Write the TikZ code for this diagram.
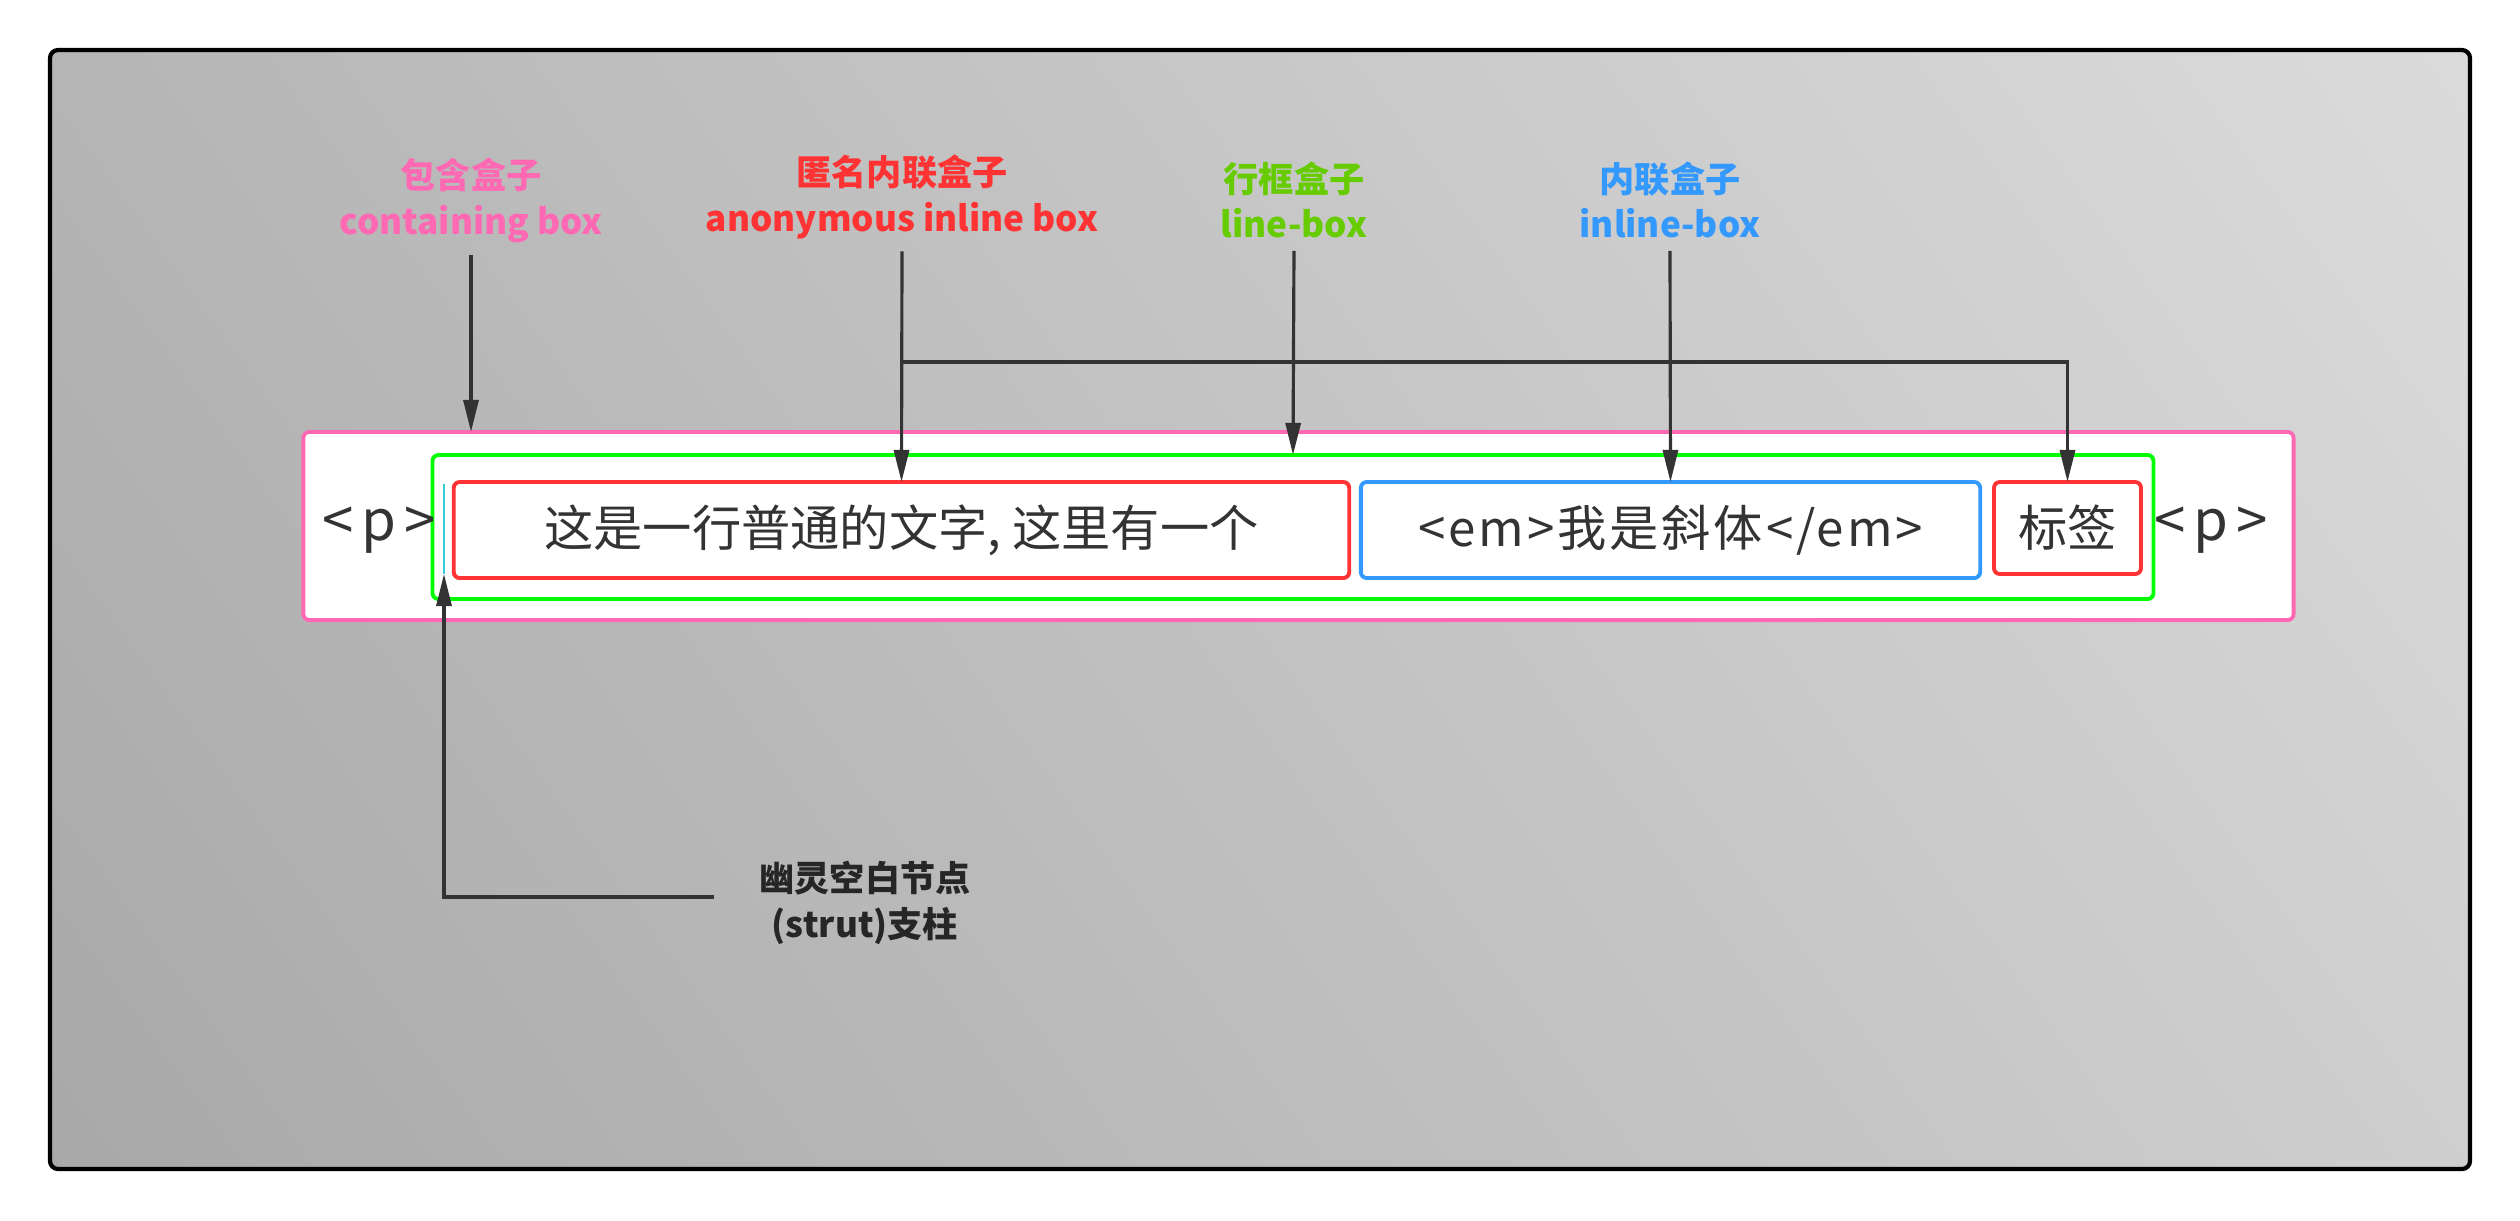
\documentclass[tikz,border=0pt]{standalone}
\usepackage{fontspec}
\setmainfont{Noto Sans CJK SC}
\usepackage{xcolor}
\usetikzlibrary{arrows.meta,positioning,shadings}
\definecolor{boxPink}{HTML}{FF69B4}
\definecolor{boxRed}{HTML}{FF3333}
\definecolor{boxGreen}{HTML}{00FF00}
\definecolor{txtGreen}{HTML}{66CC00}
\definecolor{boxBlue}{HTML}{3399FF}
\definecolor{strutCyan}{HTML}{33CCDD}
\definecolor{inkGrey}{HTML}{333333}

\tikzset{
  htmlbox/.style={draw, rounded corners=0.06cm, line width=1.1pt, inner sep=0pt, outer sep=0pt,
                  text=inkGrey, font=\fontsize{14}{17}\selectfont},
  tagtext/.style={text=inkGrey, font=\fontsize{16}{19}\selectfont\addfontfeature{LetterSpace=14}},
  callout/.style={align=center, font=\fontsize{10}{13}\selectfont\bfseries},
  pointer/.style={draw=inkGrey, line width=0.9pt, -{Triangle[length=0.32cm,width=0.15cm]}}
}

\begin{document}
\begin{tikzpicture}[x=0.01cm, y=-0.01cm]
        \fill[white] (0,0) rectangle (2520,1220);
        \useasboundingbox (0,0) rectangle (2520,1220);
        \shade[lower left=black!34, upper left=black!29, lower right=black!19, upper right=black!14,
               rounded corners=0.08cm] (50,50) rectangle (2470,1169);
        \draw[line width=1.2pt, rounded corners=0.08cm] (50,50) rectangle (2470,1169);

        \node[htmlbox, draw=boxPink, fill=white, minimum width=19.89cm, minimum height=1.88cm] (pbox) at (1298.5,526) {};
        \node[htmlbox, draw=boxGreen, minimum width=17.2cm, minimum height=1.44cm] (linebox) at (1293,527) {};
        \node[htmlbox, draw=boxRed, minimum width=8.95cm, minimum height=0.96cm] (anon) at (901.5,530) {这是一行普通的文字, 这里有一个};
        \node[htmlbox, draw=boxBlue, minimum width=6.19cm, minimum height=0.96cm] (inl) at (1670.5,530) {\addfontfeature{LetterSpace=6}<em>我是斜体</em>};
        \node[htmlbox, draw=boxRed, minimum width=1.47cm, minimum height=0.92cm] (tag) at (2067.5,528) {标签};
        \node[tagtext] (popen) at (379,530) {<p>};
        \node[tagtext] (pclose) at (2211,530) {<p>};

        \coordinate (strutTop) at (444,484);
        \coordinate (strutBot) at (444,574);
        \draw[strutCyan, line width=0.6pt] (strutTop) -- (strutBot);

        \node[callout, text=boxPink] (cboxlbl) at (471,200) {包含盒子\\containing box};
        \node[callout, text=boxRed] (anonlbl) at (902,197) {匿名内联盒子\\anonymous inline box};
        \node[callout, text=txtGreen] (linelbl) at (1294,200) {行框盒子\\line-box};
        \node[callout, text=boxBlue] (inllbl) at (1670,200) {内联盒子\\inline-box};
        \node[callout, text=black!85] (strutlbl) at (865,903) {幽灵空白节点\\(strut)支柱};

        \coordinate (fork) at (902,362);
        \coordinate (strutFoot) at (714,897);
        \draw[pointer] (cboxlbl.south) -- (cboxlbl.south |- pbox.north);
        \draw[pointer] (anonlbl.south) -- (anon.north);
        \draw[pointer] (fork) -| (tag.north);
        \draw[pointer] (linelbl.south) -- (linebox.north);
        \draw[pointer] (inllbl.south) -- (inl.north);
        \draw[pointer] (strutFoot) -| (strutBot);
    \end{tikzpicture}
\end{document}
